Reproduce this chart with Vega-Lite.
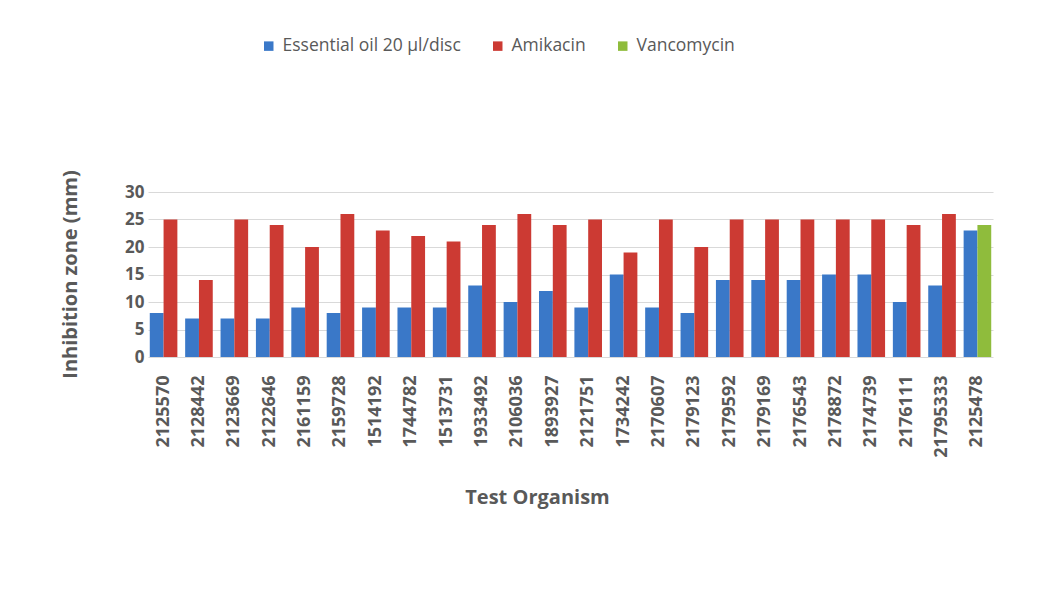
{
  "$schema": "https://vega.github.io/schema/vega-lite/v6.json",
  "width": 845,
  "height": 165,
  "autosize": {"type": "none"},
  "padding": {"left": 148, "top": 192, "right": 50, "bottom": 250},
  "background": "white",
  "config": {"font": "Open Sans", "view": {"stroke": null}},
  "data": {
    "values": [
      {"organism": "2125570", "series": "Essential oil 20 µl/disc", "type": "oil", "value": 8},
      {"organism": "2125570", "series": "Amikacin", "type": "standard", "value": 25},
      {"organism": "2128442", "series": "Essential oil 20 µl/disc", "type": "oil", "value": 7},
      {"organism": "2128442", "series": "Amikacin", "type": "standard", "value": 14},
      {"organism": "2123669", "series": "Essential oil 20 µl/disc", "type": "oil", "value": 7},
      {"organism": "2123669", "series": "Amikacin", "type": "standard", "value": 25},
      {"organism": "2122646", "series": "Essential oil 20 µl/disc", "type": "oil", "value": 7},
      {"organism": "2122646", "series": "Amikacin", "type": "standard", "value": 24},
      {"organism": "2161159", "series": "Essential oil 20 µl/disc", "type": "oil", "value": 9},
      {"organism": "2161159", "series": "Amikacin", "type": "standard", "value": 20},
      {"organism": "2159728", "series": "Essential oil 20 µl/disc", "type": "oil", "value": 8},
      {"organism": "2159728", "series": "Amikacin", "type": "standard", "value": 26},
      {"organism": "1514192", "series": "Essential oil 20 µl/disc", "type": "oil", "value": 9},
      {"organism": "1514192", "series": "Amikacin", "type": "standard", "value": 23},
      {"organism": "1744782", "series": "Essential oil 20 µl/disc", "type": "oil", "value": 9},
      {"organism": "1744782", "series": "Amikacin", "type": "standard", "value": 22},
      {"organism": "1513731", "series": "Essential oil 20 µl/disc", "type": "oil", "value": 9},
      {"organism": "1513731", "series": "Amikacin", "type": "standard", "value": 21},
      {"organism": "1933492", "series": "Essential oil 20 µl/disc", "type": "oil", "value": 13},
      {"organism": "1933492", "series": "Amikacin", "type": "standard", "value": 24},
      {"organism": "2106036", "series": "Essential oil 20 µl/disc", "type": "oil", "value": 10},
      {"organism": "2106036", "series": "Amikacin", "type": "standard", "value": 26},
      {"organism": "1893927", "series": "Essential oil 20 µl/disc", "type": "oil", "value": 12},
      {"organism": "1893927", "series": "Amikacin", "type": "standard", "value": 24},
      {"organism": "2121751", "series": "Essential oil 20 µl/disc", "type": "oil", "value": 9},
      {"organism": "2121751", "series": "Amikacin", "type": "standard", "value": 25},
      {"organism": "1734242", "series": "Essential oil 20 µl/disc", "type": "oil", "value": 15},
      {"organism": "1734242", "series": "Amikacin", "type": "standard", "value": 19},
      {"organism": "2170607", "series": "Essential oil 20 µl/disc", "type": "oil", "value": 9},
      {"organism": "2170607", "series": "Amikacin", "type": "standard", "value": 25},
      {"organism": "2179123", "series": "Essential oil 20 µl/disc", "type": "oil", "value": 8},
      {"organism": "2179123", "series": "Amikacin", "type": "standard", "value": 20},
      {"organism": "2179592", "series": "Essential oil 20 µl/disc", "type": "oil", "value": 14},
      {"organism": "2179592", "series": "Amikacin", "type": "standard", "value": 25},
      {"organism": "2179169", "series": "Essential oil 20 µl/disc", "type": "oil", "value": 14},
      {"organism": "2179169", "series": "Amikacin", "type": "standard", "value": 25},
      {"organism": "2176543", "series": "Essential oil 20 µl/disc", "type": "oil", "value": 14},
      {"organism": "2176543", "series": "Amikacin", "type": "standard", "value": 25},
      {"organism": "2178872", "series": "Essential oil 20 µl/disc", "type": "oil", "value": 15},
      {"organism": "2178872", "series": "Amikacin", "type": "standard", "value": 25},
      {"organism": "2174739", "series": "Essential oil 20 µl/disc", "type": "oil", "value": 15},
      {"organism": "2174739", "series": "Amikacin", "type": "standard", "value": 25},
      {"organism": "2176111", "series": "Essential oil 20 µl/disc", "type": "oil", "value": 10},
      {"organism": "2176111", "series": "Amikacin", "type": "standard", "value": 24},
      {"organism": "21795333", "series": "Essential oil 20 µl/disc", "type": "oil", "value": 13},
      {"organism": "21795333", "series": "Amikacin", "type": "standard", "value": 26},
      {"organism": "2125478", "series": "Essential oil 20 µl/disc", "type": "oil", "value": 23},
      {"organism": "2125478", "series": "Vancomycin", "type": "standard", "value": 24}
    ]
  },
  "mark": {"type": "bar"},
  "encoding": {
    "x": {
      "field": "organism",
      "type": "nominal",
      "sort": null,
      "scale": {"paddingInner": 0.22, "paddingOuter": 0.05},
      "axis": {
        "title": "Test Organism",
        "titleFont": "Open Sans",
        "titleFontSize": 20,
        "titleFontWeight": "bold",
        "titleColor": "#595959",
        "titleX": 389,
        "titleY": 140,
        "titleBaseline": "middle",
        "titleAlign": "center",
        "labelAngle": -90,
        "labelFontSize": 18,
        "labelFontWeight": "bold",
        "labelColor": "#595959",
        "labelPadding": 18,
        "ticks": false,
        "domain": false,
        "grid": false
      }
    },
    "xOffset": {"field": "type", "sort": ["oil", "standard"]},
    "y": {
      "field": "value",
      "type": "quantitative",
      "scale": {"domain": [0, 30]},
      "axis": {
        "title": "Inhibition zone (mm)",
        "titleFontSize": 20,
        "titleFontWeight": "bold",
        "titleColor": "#595959",
        "titleX": -78,
        "titleY": 82,
        "titleAngle": -90,
        "titleAlign": "center",
        "titleBaseline": "middle",
        "values": [0, 5, 10, 15, 20, 25, 30],
        "labelFontSize": 17,
        "labelFontWeight": "bold",
        "labelColor": "#595959",
        "labelPadding": 4,
        "ticks": false,
        "domain": false,
        "grid": true,
        "gridColor": "#d9d9d9"
      }
    },
    "color": {
      "field": "series",
      "type": "nominal",
      "scale": {
        "domain": ["Essential oil 20 µl/disc", "Amikacin", "Vancomycin"],
        "range": ["#3a78c8", "#cc3a33", "#8fbc3c"]
      },
      "legend": {
        "title": null,
        "orient": "none",
        "direction": "horizontal",
        "legendX": 112,
        "legendY": -155,
        "symbolType": "square",
        "symbolSize": 90,
        "symbolStrokeWidth": 0,
        "labelFontSize": 17.5,
        "labelLimit": 400,
        "labelColor": "#595959",
        "columnPadding": 28,
        "labelOffset": 5
      }
    }
  }
}
